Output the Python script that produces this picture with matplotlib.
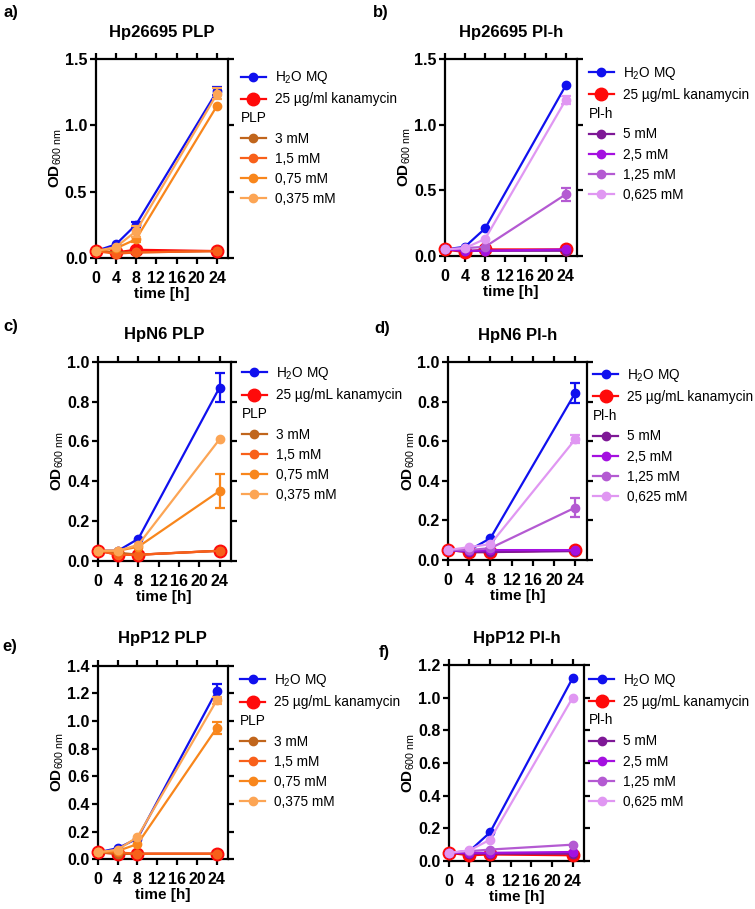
import numpy as np
import matplotlib.pyplot as plt
from matplotlib.ticker import FormatStrFormatter

plt.rcParams["font.family"] = ["Liberation Sans", "DejaVu Sans"]
plt.rcParams["mathtext.fontset"] = "custom"
plt.rcParams["mathtext.rm"] = "Liberation Sans"
plt.rcParams["mathtext.it"] = "Liberation Sans:italic"
plt.rcParams["mathtext.bf"] = "Liberation Sans:bold"

TIME = [0, 4, 8, 24]

PLP_LABELS = ["3 mM", "1,5 mM", "0,75 mM", "0,375 mM"]
PLH_LABELS = ["5 mM", "2,5 mM", "1,25 mM", "0,625 mM"]
PLP_COLORS = ["#c0651c", "#f8601a", "#f8861c", "#fca555"]
PLH_COLORS = ["#7e1896", "#a410e0", "#b45ad2", "#e097f2"]
H2O_COLOR = "#1010ee"
KAN_COLOR = "#ff0a0a"

# rows: H2O MQ, kanamycin, then the four concentrations
A_MEAN = [[0.05, 0.10, 0.25, 1.26],
          [0.05, 0.04, 0.06, 0.05],
          [0.05, 0.04, 0.04, 0.05],
          [0.05, 0.03, 0.04, 0.05],
          [0.05, 0.07, 0.14, 1.15],
          [0.05, 0.08, 0.20, 1.24]]
A_ERR = [[0, 0, 0.02, 0.03],
         [0, 0, 0, 0],
         [0, 0, 0, 0],
         [0, 0, 0, 0],
         [0, 0, 0.02, 0],
         [0, 0, 0.04, 0.04]]

B_MEAN = [[0.05, 0.07, 0.21, 1.30],
          [0.05, 0.03, 0.05, 0.05],
          [0.05, 0.04, 0.04, 0.04],
          [0.05, 0.04, 0.04, 0.05],
          [0.05, 0.06, 0.07, 0.47],
          [0.05, 0.06, 0.13, 1.19]]
B_ERR = [[0, 0, 0, 0],
         [0, 0, 0, 0],
         [0, 0, 0, 0],
         [0, 0, 0, 0],
         [0, 0, 0, 0.05],
         [0, 0, 0, 0.03]]

C_MEAN = [[0.05, 0.05, 0.11, 0.87],
          [0.05, 0.03, 0.03, 0.05],
          [0.05, 0.04, 0.03, 0.05],
          [0.05, 0.03, 0.03, 0.05],
          [0.05, 0.05, 0.07, 0.35],
          [0.05, 0.05, 0.08, 0.61]]
C_ERR = [[0, 0, 0, 0.072],
         [0, 0, 0, 0],
         [0, 0, 0, 0],
         [0, 0, 0, 0],
         [0, 0, 0, 0.085],
         [0, 0, 0, 0]]

D_MEAN = [[0.05, 0.05, 0.11, 0.845],
          [0.05, 0.04, 0.04, 0.05],
          [0.05, 0.04, 0.04, 0.045],
          [0.05, 0.045, 0.05, 0.05],
          [0.05, 0.05, 0.06, 0.265],
          [0.05, 0.065, 0.08, 0.61]]
D_ERR = [[0, 0, 0, 0.05],
         [0, 0, 0, 0],
         [0, 0, 0, 0],
         [0, 0, 0, 0],
         [0, 0, 0, 0.05],
         [0, 0, 0, 0.02]]

E_MEAN = [[0.05, 0.08, 0.15, 1.22],
          [0.05, 0.04, 0.04, 0.04],
          [0.05, 0.04, 0.04, 0.04],
          [0.05, 0.05, 0.04, 0.04],
          [0.05, 0.06, 0.11, 0.95],
          [0.05, 0.07, 0.16, 1.15]]
E_ERR = [[0, 0, 0, 0.05],
         [0, 0, 0, 0],
         [0, 0, 0, 0],
         [0, 0, 0, 0],
         [0, 0, 0, 0.045],
         [0, 0, 0, 0.025]]

F_MEAN = [[0.05, 0.06, 0.175, 1.12],
          [0.05, 0.035, 0.04, 0.035],
          [0.05, 0.045, 0.045, 0.045],
          [0.05, 0.05, 0.05, 0.055],
          [0.05, 0.06, 0.07, 0.10],
          [0.05, 0.065, 0.13, 1.00]]
F_ERR = [[0, 0, 0, 0],
         [0, 0, 0, 0],
         [0, 0, 0, 0],
         [0, 0, 0, 0],
         [0, 0, 0, 0],
         [0, 0, 0, 0]]

W, H = 755, 909

# (letter, title, mean, err, ymax, ystep, group, kan label,
#  axes box px, letter px, legend offset px from top-right corner)
PANELS = [
    ("a)", "Hp26695 PLP", A_MEAN, A_ERR, 1.5, 0.5, "PLP", "25 µg/ml kanamycin",
     (95.5, 59.3, 228.3, 257.7), (3, 13), (12.5, 17)),
    ("b)", "Hp26695 Pl-h", B_MEAN, B_ERR, 1.5, 0.5, "Pl-h", "25 µg/mL kanamycin",
     (444.7, 59.0, 577.0, 256.0), (373, 13), (11.5, 13)),
    ("c)", "HpN6 PLP", C_MEAN, C_ERR, 1.0, 0.2, "PLP", "25 µg/mL kanamycin",
     (97.7, 361.7, 230.7, 560.7), (3, 326), (11, 10.5)),
    ("d)", "HpN6 Pl-h", D_MEAN, D_ERR, 1.0, 0.2, "Pl-h", "25 µg/mL kanamycin",
     (448.0, 362.0, 587.0, 560.0), (374, 328), (6, 12)),
    ("e)", "HpP12 PLP", E_MEAN, E_ERR, 1.4, 0.2, "PLP", "25 µg/mL kanamycin",
     (97.7, 665.7, 227.7, 859.3), (2, 646), (12.3, 13.5)),
    ("f)", "HpP12 Pl-h", F_MEAN, F_ERR, 1.2, 0.2, "Pl-h", "25 µg/mL kanamycin",
     (448.7, 665.0, 584.0, 861.0), (379, 652), (5, 14)),
]


def draw_panel(fig, spec):
    letter, title, mean, err, ymax, ystep, group, kan_label, box, lpos, loff = spec
    x0, y0, x1, y1 = box
    ax = fig.add_axes([x0 / W, 1 - y1 / H, (x1 - x0) / W, (y1 - y0) / H])

    if group == "PLP":
        labels, colors = PLP_LABELS, PLP_COLORS
    else:
        labels, colors = PLH_LABELS, PLH_COLORS
    names = ["H$_2$O MQ", kan_label] + labels
    cols = [H2O_COLOR, KAN_COLOR] + colors
    sizes = [6, 9] + [6] * 4

    handles = []
    for i, (m, e) in enumerate(zip(mean, err)):
        ln, = ax.plot(TIME, m, color=cols[i], marker="o", ms=sizes[i], lw=1.6,
                      mec=cols[i], clip_on=False, zorder=3 + i, label=names[i])
        handles.append(ln)
        e = np.asarray(e, float)
        idx = e > 0
        if idx.any():
            ax.errorbar(np.asarray(TIME)[idx], np.asarray(m)[idx], yerr=e[idx],
                        fmt="none", ecolor=cols[i], elinewidth=1.6, capsize=3.5,
                        capthick=1.6, clip_on=False, zorder=3 + i)

    ax.set_xlim(0, 26.2)
    ax.set_ylim(0, ymax)
    ax.set_xticks([0, 4, 8, 12, 16, 20, 24])
    ax.set_yticks(np.arange(0, ymax + 1e-9, ystep))
    ax.yaxis.set_major_formatter(FormatStrFormatter("%.1f"))
    for s in ax.spines.values():
        s.set_linewidth(1.6)
    ax.tick_params(direction="out", length=4, width=1.6, top=True, right=True,
                   labelsize=11.5)
    ax.tick_params(axis="x", pad=5.5)
    ax.tick_params(axis="y", pad=2)
    for t in ax.get_xticklabels() + ax.get_yticklabels():
        t.set_fontweight("bold")

    ax.set_xlabel("time [h]", fontsize=11, fontweight="bold", labelpad=0.5)
    ax.set_ylabel(r"OD$_{\mathrm{600\ nm}}$", fontsize=11, fontweight="bold", labelpad=0.5)
    ax.set_title(title, fontsize=12, fontweight="bold", y=1.0, pad=16)
    fig.text(lpos[0] / W, 1 - lpos[1] / H, letter, fontsize=12, fontweight="bold",
             ha="left", va="center")

    # legend: controls on top, concentration block with a left-aligned header
    lx = (x1 + loff[0]) / W
    top1 = 1 - (y0 + loff[1] - 7) / H
    leg_kw = dict(frameon=False, fontsize=9.8, handlelength=1.85, handletextpad=0.65,
                  borderpad=0, borderaxespad=0, labelspacing=0.45,
                  loc="upper left", bbox_transform=fig.transFigure)
    leg1 = ax.legend(handles[:2], names[:2], bbox_to_anchor=(lx, top1), **leg_kw)
    ax.add_artist(leg1)
    top2 = 1 - (y0 + loff[1] + 39.5 - 5) / H
    leg2 = ax.legend(handles[2:], names[2:], bbox_to_anchor=(lx, top2),
                     title=group, title_fontsize=9.8, alignment="left", **leg_kw)
    leg2._legend_box.sep = 5
    return ax


fig = plt.figure(figsize=(W / 100, H / 100), dpi=100)
for spec in PANELS:
    draw_panel(fig, spec)

fig.savefig("out.png", dpi=100)
